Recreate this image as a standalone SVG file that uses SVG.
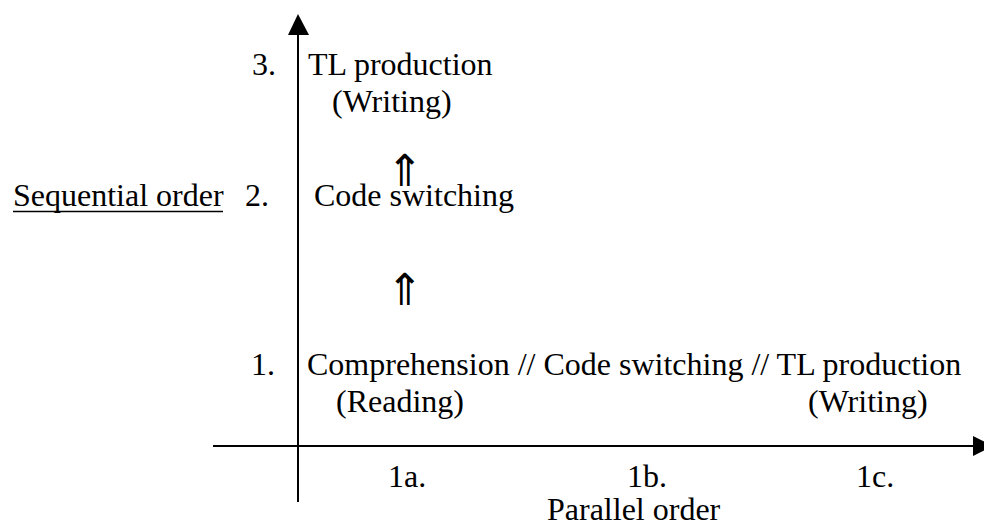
<svg xmlns="http://www.w3.org/2000/svg" width="984" height="522" viewBox="0 0 984 522">
<style>
text{font-family:"Liberation Serif","Times New Roman",serif;font-size:32px;fill:#000}
.ar{font-family:"Noto Sans CJK SC","DejaVu Sans",sans-serif;font-size:44px}
.ax{stroke:#000;stroke-width:2;fill:none}
</style>
<g id="connectors">
<line class="ax" x1="298" y1="502" x2="298" y2="34"/>
<path d="M288,35 L298,14 L309,35 Z" fill="#000"/>
<line class="ax" x1="213" y1="446" x2="974" y2="446"/>
<path d="M973,436 L993,446 L973,456 Z" fill="#000"/>
</g>
<g id="y-axis-label"><text x="13" y="206">Sequential order</text><line x1="13" y1="211.5" x2="223" y2="211.5" stroke="#000" stroke-width="1.5"/></g>
<g id="step3"><text x="252" y="75">3.</text><text x="308" y="75">TL production</text><text x="332" y="112">(Writing)</text></g>
<g id="arrow-up-1"><text class="ar" x="405" y="186" text-anchor="middle">⇑</text></g>
<g id="step2"><text x="245" y="206">2.</text><text x="314" y="206">Code switching</text></g>
<g id="arrow-up-2"><text class="ar" x="405" y="305" text-anchor="middle">⇑</text></g>
<g id="step1"><text x="251" y="375">1.</text><text x="307" y="375">Comprehension // Code switching // TL production</text><text x="336" y="412">(Reading)</text><text x="808" y="412">(Writing)</text></g>
<g id="x-axis-labels"><text x="388" y="487">1a.</text><text x="627" y="487">1b.</text><text x="856" y="487">1c.</text><text x="547" y="520">Parallel order</text></g>
</svg>
